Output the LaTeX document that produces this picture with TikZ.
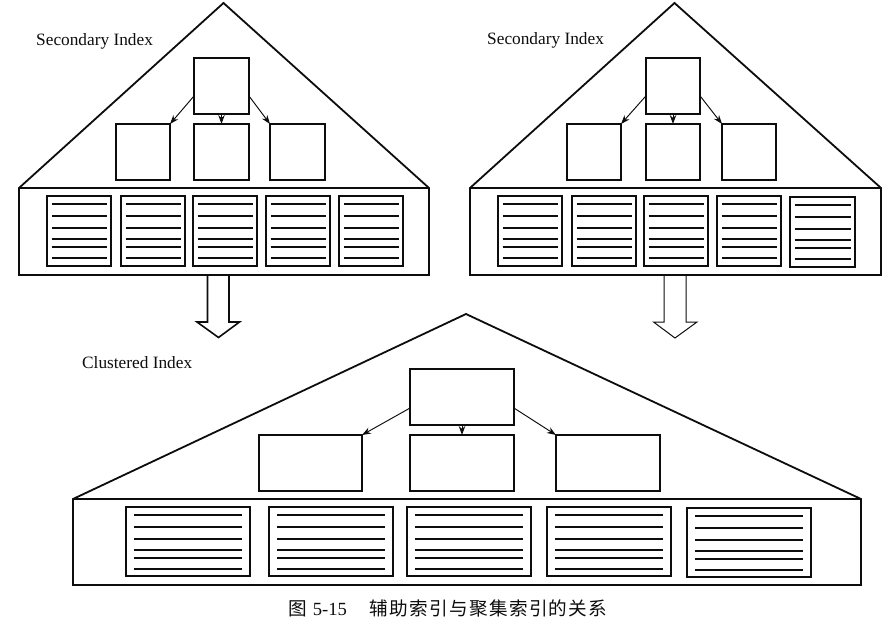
\documentclass[tikz,border=0pt]{standalone}
\usepackage{fontspec}
\setmainfont{Liberation Serif}
\newfontfamily\cjkfont[LetterSpace=7]{Noto Sans CJK SC}
\usetikzlibrary{arrows.meta,calc}
\tikzset{
  panel/.style={draw=inkc,line width=1.8pt,line join=miter},
  boxn/.style={draw=inkc,fill=white,line width=1.9pt,inner sep=0pt,outer sep=0pt},
  leafn/.style={draw=inkc,line width=1.8pt,inner sep=0pt,outer sep=0pt},
  rulel/.style={draw=inkc,line width=1.3pt},
  link/.style={draw=inkc,line width=.95pt,-{Stealth[length=9pt,width=6.5pt]}},
  blockarrow/.style={draw=inkc,fill=white,line join=miter},
  lab/.style={inkc,font=\fontsize{17.3}{20}\selectfont,inner sep=0pt,anchor=west},
}
\definecolor{inkc}{gray}{0.05}
\newcommand{\mybox}[6][boxn]{%
  \node[#1,minimum width={(#5-#3)*1pt},minimum height={(#6-#4)*1pt}] (#2) at ({(#3+#5)/2},{(#4+#6)/2}) {};}
\newcommand{\myleaf}[6]{%
  \mybox[leafn]{#1}{#2}{#3}{#4}{#5}
  \foreach \dy in {8,20,32,43,51,62}
    \draw[rulel] ([shift={(#6,\dy)}]#1.north west) -- ([shift={(-#6,\dy)}]#1.north east);}
\begin{document}
\begin{tikzpicture}[x=1pt,y=-1pt]
\useasboundingbox (0,0) rectangle (889,626);
\fill[white] (0,0) rectangle (889,626);

% ---- left secondary index
\coordinate (la) at (223.5,3);
\coordinate (ll) at (19,188);
\coordinate (lr) at (429,188);
\coordinate (lbl) at (19,275);
\coordinate (lbr) at (429,275);
\draw[panel] (ll) -- (la) -- (lr) -- (lbr) -- (lbl) -- cycle (ll) -- (lr);
\mybox{lroot}{194}{58}{249}{114}
\mybox{lc1}{116}{124}{170}{180}
\mybox{lc2}{194}{124}{249}{180}
\mybox{lc3}{270}{124}{325}{180}
\draw[link] (lroot.200) -- (lc1.north east);
\draw[link] (lroot.south) -- (lc2.north);
\draw[link] (lroot.340) -- (lc3.north west);
\myleaf{ll1}{47}{196}{111}{266}{4.5}
\myleaf{ll2}{121}{196}{185}{266}{4.5}
\myleaf{ll3}{193}{196}{257}{266}{4.5}
\myleaf{ll4}{266}{196}{330}{266}{4.5}
\myleaf{ll5}{339}{196}{403}{266}{4.5}
\node[lab] (ltext) at (36,41) {Secondary Index};

% ---- right secondary index
\coordinate (ra) at (674.5,3);
\coordinate (rl) at (470,188);
\coordinate (rr) at (881,188);
\coordinate (rbl) at (470,275);
\coordinate (rbr) at (881,275);
\draw[panel] (rl) -- (ra) -- (rr) -- (rbr) -- (rbl) -- cycle (rl) -- (rr);
\mybox{rroot}{646}{58}{700}{114}
\mybox{rc1}{567}{124}{621}{180}
\mybox{rc2}{646}{124}{700}{180}
\mybox{rc3}{722}{124}{776}{180}
\draw[link] (rroot.200) -- (rc1.north east);
\draw[link] (rroot.south) -- (rc2.north);
\draw[link] (rroot.340) -- (rc3.north west);
\myleaf{rl1}{498}{196}{562}{266}{4.5}
\myleaf{rl2}{572}{196}{636}{266}{4.5}
\myleaf{rl3}{644}{196}{708}{266}{4.5}
\myleaf{rl4}{717}{196}{781}{266}{4.5}
\myleaf{rl5}{790}{197}{855}{267}{4.5}
\node[lab] (rtext) at (487,40.5) {Secondary Index};

% ---- block arrows
\draw[blockarrow,line width=1.6pt] (207.5,276) -- (207.5,322) -- (197,322) -- (218.5,337.5) -- (239.5,322) -- (229,322) -- (229,276);
\draw[blockarrow,line width=1pt] (664,276) -- (664,322) -- (653.5,322) -- (675,338) -- (697,322) -- (686,322) -- (686,276);

% ---- clustered index
\coordinate (ca) at (466,314);
\coordinate (cl) at (73,499);
\coordinate (cr) at (861,499);
\coordinate (cbl) at (73,585);
\coordinate (cbr) at (861,585);
\draw[panel] (cl) -- (ca) -- (cr) -- (cbr) -- (cbl) -- cycle (cl) -- (cr);
\mybox{croot}{410}{369}{514}{425}
\mybox{cc1}{259}{435}{362}{491}
\mybox{cc2}{410}{435}{514}{491}
\mybox{cc3}{556}{435}{660}{491}
\draw[link] (croot.192) -- (cc1.north east);
\draw[link] (croot.south) -- (cc2.north);
\draw[link] (croot.348) -- (cc3.north west);
\myleaf{cl1}{126}{507}{250}{576}{8}
\myleaf{cl2}{269}{507}{393}{576}{8}
\myleaf{cl3}{407}{507}{531}{576}{8}
\myleaf{cl4}{547}{507}{671}{576}{8}
\myleaf{cl5}{687}{508}{811}{577}{8}
\node[lab] (ctext) at (82,363) {Clustered Index};

% ---- caption
\node[inkc,inner sep=0pt,anchor=west,font=\fontsize{18.6}{22}\selectfont] (cap) at (288,608)
  {{\cjkfont 图}\hspace{6pt}5-15\hspace{23pt}{\cjkfont 辅助索引与聚集索引的关系}};
\end{tikzpicture}
\end{document}
